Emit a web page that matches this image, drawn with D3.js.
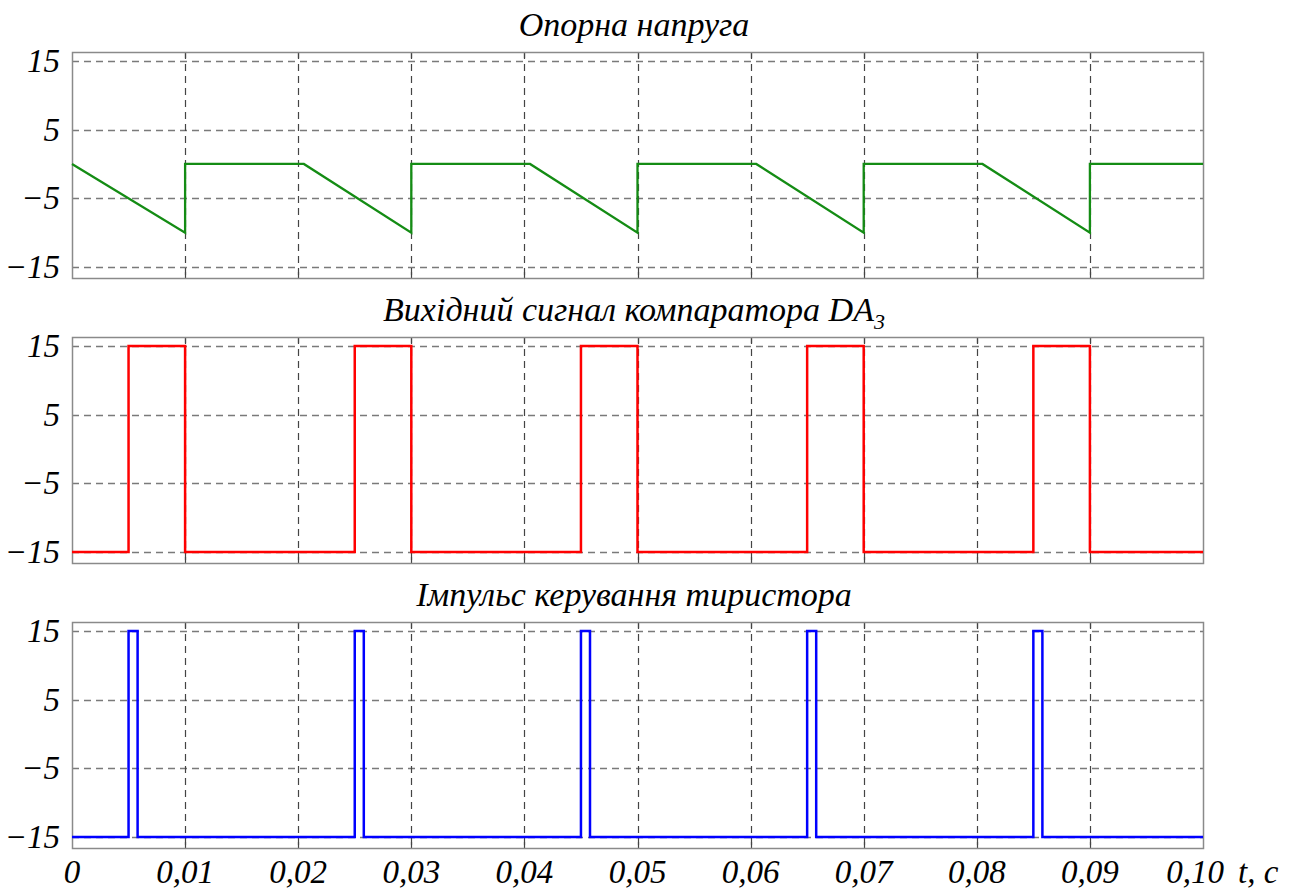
<!DOCTYPE html>
<html><head><meta charset="utf-8">
<script src="https://cdn.jsdelivr.net/npm/d3@7"></script>
<style>body{margin:0;background:#fff}</style>
</head><body>
<svg id="c" width="1290" height="889"></svg>
<script>
// Data
const titles = ["Опорна напруга", "Вихідний сигнал компаратора DA", "Імпульс керування тиристора"];
const xTicks = [0,0.01,0.02,0.03,0.04,0.05,0.06,0.07,0.08,0.09,0.10];
const xTickLabels = ["0","0,01","0,02","0,03","0,04","0,05","0,06","0,07","0,08","0,09","0,10"];
const yTicks = [15,5,-5,-15];
const yTickLabels = ["15","5","\u22125","\u221215"];
// Reference voltage (green) [t, u]
const refT = [0,0.01,0.01,0.0205,0.03,0.03,0.0405,0.05,0.05,0.0605,0.07,0.07,0.0805,0.09,0.09,0.10];
const refU = [0,-10,0,0,-10,0,0,-10,0,0,-10,0,0,-10,0,0];
// Comparator output (red)
const cmpT = [0,0.005,0.005,0.01,0.01,0.025,0.025,0.03,0.03,0.045,0.045,0.05,0.05,0.065,0.065,0.07,0.07,0.085,0.085,0.09,0.09,0.10];
const cmpU = [-15,-15,15,15,-15,-15,15,15,-15,-15,15,15,-15,-15,15,15,-15,-15,15,15,-15,-15];
// Thyristor control pulse (blue)
const pulT = [0,0.005,0.005,0.0058,0.0058,0.025,0.025,0.0258,0.0258,0.045,0.045,0.0458,0.0458,0.065,0.065,0.0658,0.0658,0.085,0.085,0.0858,0.0858,0.10];
const pulU = [-15,-15,15,15,-15,-15,15,15,-15,-15,15,15,-15,-15,15,15,-15,-15,15,15,-15,-15];

const series = [
  {t: refT, u: refU, color: "#148c14", w: 2.3},
  {t: cmpT, u: cmpU, color: "#ff0000", w: 2.5},
  {t: pulT, u: pulU, color: "#0000ff", w: 2.5}
];

const svg = d3.select("#c");
const left = 72, right = 1203;
const panelTops = [52, 337, 622], panelH = 226;
const x = d3.scaleLinear().domain([0, 0.1]).range([left, right]);
const font = "'Liberation Serif','Times New Roman',serif";

series.forEach((s, i) => {
  const top = panelTops[i], bot = top + panelH;
  const y = d3.scaleLinear().domain([-16.6, 16.3]).range([bot, top]);
  const g = svg.append("g");
  // grid
  g.selectAll(".hg").data(yTicks).join("line")
    .attr("x1", left).attr("x2", right)
    .attr("y1", d => Math.round(y(d)) + 0.5).attr("y2", d => Math.round(y(d)) + 0.5)
    .attr("stroke", "#7a7a7a").attr("stroke-width", 1.3).attr("stroke-dasharray", "7,5");
  g.selectAll(".vg").data(xTicks.slice(1, -1)).join("line")
    .attr("x1", d => Math.round(x(d)) + 0.5).attr("x2", d => Math.round(x(d)) + 0.5)
    .attr("y1", top).attr("y2", bot)
    .attr("stroke", "#444").attr("stroke-width", 1.2).attr("stroke-dasharray", "7,5");
  // tick marks inside frame
  xTicks.slice(1, -1).forEach(d => {
    g.append("line").attr("x1", Math.round(x(d)) + 0.5).attr("x2", Math.round(x(d)) + 0.5)
      .attr("y1", top).attr("y2", top + 6).attr("stroke", "#444").attr("stroke-width", 1.2);
    g.append("line").attr("x1", Math.round(x(d)) + 0.5).attr("x2", Math.round(x(d)) + 0.5)
      .attr("y1", bot).attr("y2", bot - 6).attr("stroke", "#444").attr("stroke-width", 1.2);
  });
  // frame
  g.append("rect").attr("x", left + 0.5).attr("y", top + 0.5)
    .attr("width", right - left).attr("height", panelH)
    .attr("fill", "none").attr("stroke", "#8a8a8a").attr("stroke-width", 1.5);
  // line
  const pts = s.t.map((t, k) => [t, s.u[k]]);
  g.append("path").datum(pts)
    .attr("d", d3.line().x(d => x(d[0])).y(d => y(d[1])))
    .attr("fill", "none").attr("stroke", s.color).attr("stroke-width", s.w)
    .attr("stroke-linejoin", "miter");
  // y labels
  g.selectAll(".yl").data(yTicks).join("text")
    .attr("x", 60).attr("y", d => y(d) + 11)
    .attr("text-anchor", "end")
    .attr("font-family", font).attr("font-style", "italic").attr("font-size", 33)
    .text((d, k) => yTickLabels[k]);
  // title
  const tt = g.append("text").attr("x", 634).attr("y", top - 16)
    .attr("text-anchor", "middle")
    .attr("font-family", font).attr("font-style", "italic").attr("font-size", 34)
    .text(titles[i]);
  if (i === 1) {
    tt.append("tspan").attr("font-size", 22).attr("dy", 8).text("3");
  }
});

// x labels
svg.selectAll(".xl").data(xTicks).join("text")
  .attr("x", (d, k) => x(d) - (k === xTicks.length - 1 ? 8 : 0)).attr("y", 883)
  .attr("text-anchor", "middle")
  .attr("font-family", font).attr("font-style", "italic").attr("font-size", 33)
  .text((d, k) => xTickLabels[k]);
svg.append("text").attr("x", 1238).attr("y", 883)
  .attr("font-family", font).attr("font-style", "italic").attr("font-size", 33)
  .text("t, c");
</script>
</body></html>
